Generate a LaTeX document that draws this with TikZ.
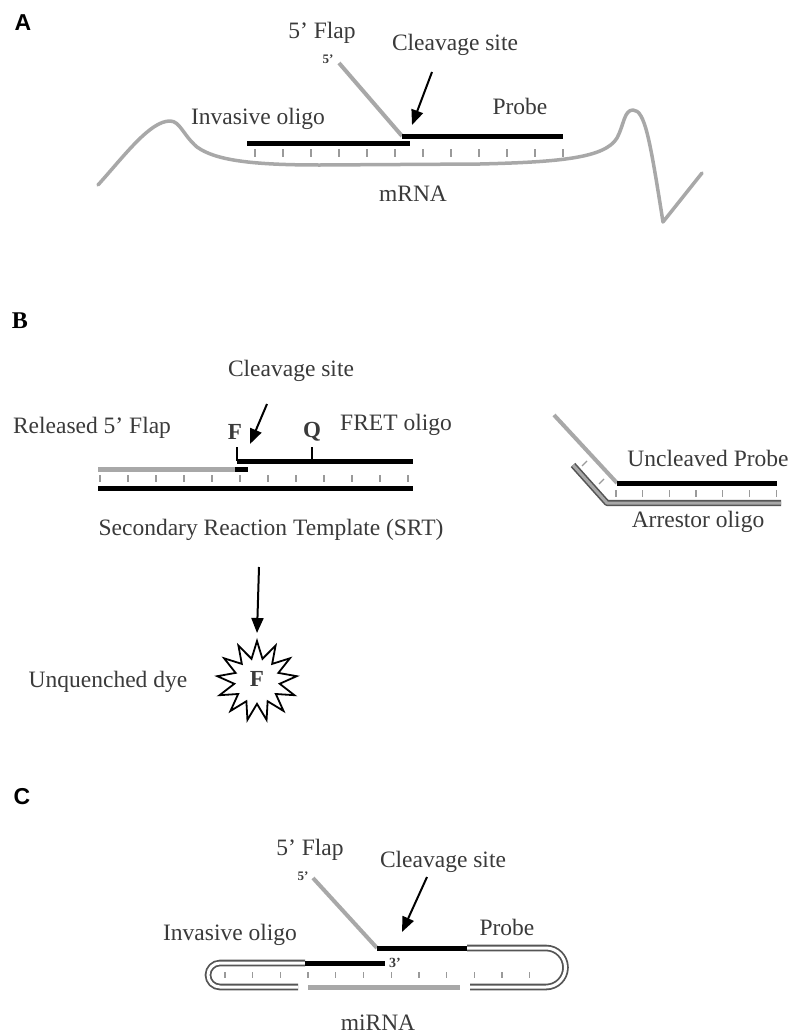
\documentclass[tikz,border=0pt]{standalone}
\usepackage{fontspec}
\setmainfont{Liberation Serif}
\setsansfont{Liberation Sans}
\usetikzlibrary{arrows.meta,shapes.geometric}
\definecolor{txt}{HTML}{3A3A3A}
\definecolor{strand}{HTML}{A8A8A8}
\definecolor{tickc}{HTML}{9A9A9A}
\definecolor{tubeedge}{HTML}{555555}
\begin{document}
\begin{tikzpicture}[x=1pt,y=-1pt,
 lbl/.style={font=\fontsize{23.5}{26}\selectfont, text=txt, inner sep=0pt},
 panel/.style={font=\sffamily\bfseries\fontsize{23}{26}\selectfont, inner sep=0pt},
 small/.style={font=\bfseries\fontsize{13}{14}\selectfont, text=txt, inner sep=0pt},
 dye/.style={font=\bfseries\fontsize{23}{26}\selectfont, text=txt, inner sep=0pt},
 blackstrand/.style={line width=5pt, black},
 graystrand/.style={line width=4pt, strand},
 rna/.style={line width=3.5pt, strand, line join=round, line cap=round},
 tk/.style={line width=1.3pt, tickc},
 tether/.style={line width=2pt, black},
 cut/.style={line width=2pt, black, -{Triangle[length=15pt,width=12pt]}},
 tube/.style={draw=tubeedge, line width=1.8pt, double=white, double distance=3pt},
 graytube/.style={draw=tubeedge, line width=1.6pt, double=strand, double distance=3pt, line join=round},
]
\fill[white] (0,0) rectangle (800,1036);
\useasboundingbox (0,0) rectangle (800,1036);

%%%%%%%%%%%%%%%% Panel A
\node[panel] (A) at (23,23) {A};
\node[lbl] (flapA) at (322,33) {5' Flap};
\node[small] (fiveA) at (328,59) {5'};
\node[lbl] (cleaveA) at (455,45) {Cleavage site};
\node[lbl] (probeA) at (520,106) {Probe};
\node[lbl] (invA) at (258,119) {Invasive oligo};
\node[lbl] (mrnaA) at (413,194) {mRNA};

\draw[rna] (98,185) .. controls (125,155) and (150,121) .. (170,121)
  .. controls (180,121) and (183,135) .. (197,147)
  .. controls (215,160) and (250,165) .. (320,165)
  -- (480,164)
  .. controls (560,162) and (605,158) .. (617,138)
  .. controls (624,125) and (624,110) .. (633,110)
  .. controls (645,110) and (650,140) .. (663,222)
  -- (702,173);
\foreach \k in {0,...,11} \draw[tk] ({255+28*\k},149) -- ({255+28*\k},157);
\coordinate (invA1) at (247,143); \coordinate (invA2) at (410,143);
\coordinate (prA1) at (402,136); \coordinate (prA2) at (563,136);
\coordinate (flA) at (339,63);
\draw[blackstrand] (invA1) -- (invA2);
\draw[graystrand] (flA) -- (prA1);
\draw[blackstrand] (prA1) -- (prA2);
\coordinate (arA1) at (432,72); \coordinate (arA2) at (412,125);
\draw[cut] (arA1) -- (arA2);

%%%%%%%%%%%%%%%% Panel B
\node[font=\bfseries\fontsize{24}{26}\selectfont, inner sep=0pt] (B) at (20,321) {B};
\node[lbl] (cleaveB) at (291,371) {Cleavage site};
\node[lbl] (relB) at (92,428) {Released 5' Flap};
\node[dye] (FB) at (235,432) {F};
\node[dye] (QB) at (312,432) {Q};
\node[lbl] (fretB) at (396,425) {FRET oligo};
\node[lbl] (srtB) at (271,530) {Secondary Reaction Template (SRT)};
\node[lbl] (unqB) at (108,682) {Unquenched dye};
\node[lbl] (uncB) at (708,458) {Uncleaved Probe};
\node[lbl] (arrB) at (698,522) {Arrestor oligo};

\coordinate (fr1) at (237,461); \coordinate (fr2) at (413,461);
\draw[blackstrand] (fr1) -- (fr2);
\draw[tether] (237,447) -- (fr1);
\draw[tether] (312,447) -- (312,461);
\coordinate (rf1) at (98,469); \coordinate (rf2) at (240,469);
\draw[line width=5pt, strand] (rf1) -- (rf2);
\draw[blackstrand] (235,469) -- (248,469);
\foreach \k in {0,...,11} \draw[tk] ({100+28*\k},475) -- ({100+28*\k},482);
\coordinate (srt1) at (98,488); \coordinate (srt2) at (413,488);
\draw[blackstrand] (srt1) -- (srt2);
\coordinate (arB1) at (267,404); \coordinate (arB2) at (250,444);
\draw[cut] (arB1) -- (arB2);
\coordinate (dn1) at (259,567);
\node[star, star points=13, star point ratio=1.75, minimum size=80pt, draw=black, line width=1.8pt, fill=white, inner sep=0pt] (starB) at (257,681) {};
\node[dye] (FdyeB) at (257,679) {F};
\draw[cut] (dn1) -- (starB.north |- 0,633);

% right: uncleaved probe with arrestor
\coordinate (ufl) at (554,415); \coordinate (up1) at (617,483); \coordinate (up2) at (777,483);
\coordinate (ar1) at (573,465); \coordinate (ar2) at (607,503); \coordinate (ar3) at (781,503);
\foreach \k in {0,...,6} \draw[tk] ({616+26.7*\k},490) -- ({616+26.7*\k},497);
\draw[tk] (587,461) -- (582,466);
\draw[tk] (604,479) -- (599,484);
\draw[graytube] (ar1) -- (ar2) -- (ar3);
\draw[graystrand] (ufl) -- (up1);
\draw[blackstrand] (up1) -- (up2);

%%%%%%%%%%%%%%%% Panel C
\node[panel] (C) at (22,797) {C};
\node[lbl] (flapC) at (310,850) {5' Flap};
\node[small] (fiveC) at (303,876) {5'};
\node[lbl] (cleaveC) at (443,862) {Cleavage site};
\node[lbl] (probeC) at (507,927) {Probe};
\node[lbl] (invC) at (230,935) {Invasive oligo};
\node[font=\bfseries\fontsize{14}{15}\selectfont, text=txt, inner sep=0pt] (threeC) at (395,963) {3'};
\node[lbl] (mirC) at (378,1023) {miRNA};

\foreach \k in {0,...,11} \draw[tk] ({225+27.7*\k},972) -- ({225+27.7*\k},978);
\coordinate (pC1) at (377,948); \coordinate (pC2) at (467,948);
\coordinate (iC1) at (305,963); \coordinate (iC2) at (385,963);
% right hairpin arm of probe
\draw[tube] (pC2) -- (546,948) .. controls (556.8,948) and (565.5,956.7) .. (565.5,967.5)
  .. controls (565.5,978.3) and (556.8,987) .. (546,987) -- (470,987);
% left hairpin arm of invasive oligo
\draw[tube] (iC1) -- (220,963) .. controls (213.4,963) and (208,968.4) .. (208,975)
  .. controls (208,981.6) and (213.4,987) .. (220,987) -- (298,987);
\draw[blackstrand] (iC1) -- (iC2);
\coordinate (flC) at (313,878);
\draw[graystrand] (flC) -- (pC1);
\draw[blackstrand] (pC1) -- (pC2);
\coordinate (mi1) at (308,987); \coordinate (mi2) at (460,987);
\draw[line width=5pt, strand] (mi1) -- (mi2);
\coordinate (arC1) at (427,877); \coordinate (arC2) at (402,932);
\draw[cut] (arC1) -- (arC2);
\end{tikzpicture}
\end{document}
